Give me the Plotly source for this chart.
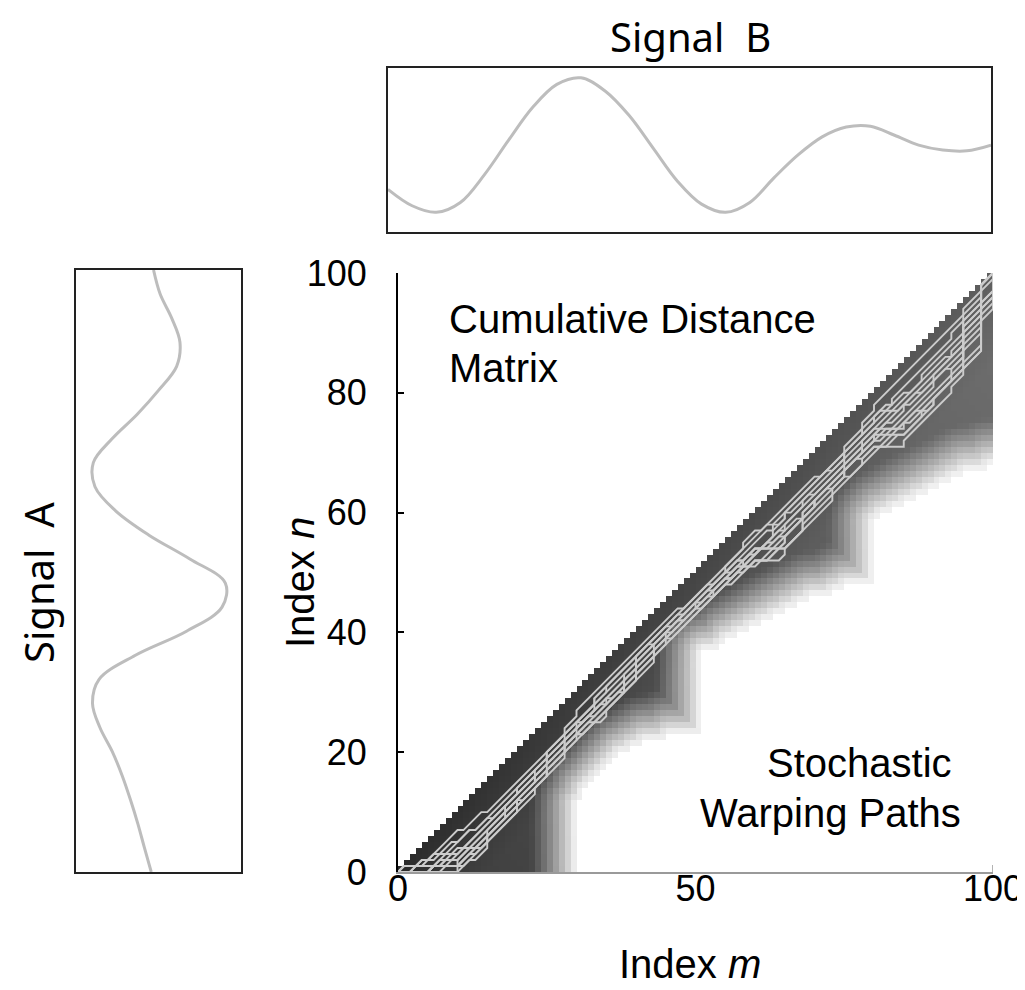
import numpy as np
import plotly.graph_objects as go

# ---------------- data ----------------
# Signal B (top panel): index m vs relative amplitude
B_M = [0, 4, 8, 12, 16, 20, 24, 28, 32, 36, 40, 44, 48, 52, 56, 60, 64, 68, 72, 76, 80, 84, 88, 92, 96, 100]
B_VAL = [0.26, 0.16, 0.12, 0.18, 0.35, 0.56, 0.76, 0.90, 0.94, 0.86, 0.71, 0.51, 0.31, 0.17, 0.12, 0.18,
         0.33, 0.47, 0.58, 0.64, 0.645, 0.59, 0.53, 0.50, 0.495, 0.53]

# Signal A (left panel): index n vs relative amplitude (drawn horizontally)
A_N = [100, 96, 92, 88, 84, 80, 76, 72, 68, 64, 60, 56, 52, 48, 44, 40, 36, 32, 28, 24, 20, 16, 12, 8, 4, 0]
A_VAL = [0.47, 0.51, 0.58, 0.63, 0.61, 0.50, 0.37, 0.22, 0.105, 0.115, 0.24, 0.44, 0.69, 0.905, 0.885,
         0.67, 0.36, 0.14, 0.10, 0.145, 0.22, 0.28, 0.33, 0.375, 0.415, 0.456]

# Cumulative distance matrix: lower boundary of the shaded region (white below), per column m
LOW_M = [0, 29, 30, 32, 35, 38, 42, 46, 50, 51, 53, 57, 62, 67, 72, 76, 79, 80, 84, 88, 92, 96, 100]
LOW_N = [0, 0, 12, 15.5, 18.5, 20.5, 22, 23, 23.5, 37, 37.5, 40, 42.5, 45, 46.5, 48, 48.5, 59, 61.5, 63.5, 65.5, 67, 68]
GRAY_NEAR_ORIGIN = 0.17
GRAY_NEAR_END = 0.37
FADE_WIDTH = 8.0

# Stochastic warping paths: offset (m - n) at anchor columns
PATH_M = [0, 5, 10, 15, 20, 25, 30, 35, 40, 45, 50, 55, 60, 65, 70, 75, 80, 85, 90, 95, 100]
PATH_OFFSETS = [
    [0, 3, 3, 5, 5, 5, 4, 3, 3, 3, 4, 4, 3, 4, 4, 5, 3, 2, 2, 2, 0],
    [0, 4, 5, 6, 6, 6, 5, 5, 4, 4, 5, 5, 5, 6, 5, 6, 5, 4, 4, 3, 0],
    [0, 5, 7, 7, 7, 7, 6, 6, 5, 5, 5, 5, 6, 7, 6, 6, 6, 6, 5, 5, 0],
    [0, 5, 8, 8, 8, 8, 6, 7, 6, 5, 6, 6, 7, 8, 7, 7, 7, 8, 7, 6, 0],
    [0, 5, 9, 9, 9, 8, 7, 8, 7, 6, 6, 5, 6, 9, 8, 8, 8, 9, 9, 8, 0],
    [0, 4, 9, 10, 9, 9, 7, 9, 7, 6, 7, 6, 7, 10, 9, 9, 7, 11, 10, 9, 0],
    [0, 5, 9, 10, 10, 8, 7, 7, 8, 7, 7, 7, 8, 11, 10, 10, 9, 12, 11, 11, 0],
    [0, 5, 10, 11, 10, 9, 8, 8, 8, 7, 6, 7, 9, 12, 11, 9, 10, 14, 13, 12, 0],
    [0, 3, 6, 7, 7, 7, 6, 5, 5, 4, 5, 6, 8, 9, 8, 8, 9, 10, 12, 10, 0],
    [0, 4, 8, 9, 8, 7, 6, 4, 4, 5, 5, 6, 7, 5, 7, 7, 4, 5, 6, 7, 0],
    [0, 5, 9, 8, 7, 6, 5, 7, 6, 5, 6, 7, 6, 8, 9, 7, 6, 7, 8, 7, 0],
    [0, 4, 7, 10, 8, 7, 6, 6, 7, 6, 5, 5, 7, 10, 8, 9, 8, 10, 11, 10, 0],
    [0, 5, 10, 9, 8, 9, 7, 8, 6, 5, 6, 6, 8, 11, 9, 8, 7, 12, 12, 11, 0],
    [0, 3, 5, 6, 7, 6, 5, 4, 4, 4, 4, 5, 4, 6, 5, 5, 4, 7, 8, 9, 0],
]

Y_TICKS = [0, 20, 40, 60, 80, 100]
X_TICKS = [0, 50, 100]

# ---------------- build matrix ----------------
N = 100
cols = np.arange(N)
rows = np.arange(N)
n_low = np.interp(cols, LOW_M, LOW_N)
MM, NN = np.meshgrid(cols, rows)
inside = NN <= MM
white = (NN + 0.5 < n_low[MM]) & inside
wy, wx = np.nonzero(white)
dark = inside & ~white
dy, dx = np.nonzero(dark)
d2 = (dy[:, None] - wy[None, :]) ** 2 + (dx[:, None] - wx[None, :]) ** 2
dist = np.sqrt(d2.min(axis=1))
z = np.full((N, N), np.nan)
z[white] = 1.0
base = (GRAY_NEAR_ORIGIN + (GRAY_NEAR_END - GRAY_NEAR_ORIGIN) * (dx + dy) / 200.0
        + 0.07 * np.clip((dx - dy) / 15.0, 0, 1))
t = np.clip((dist - 0.3) / FADE_WIDTH, 0, 1)
z[dy, dx] = base + (1 - base) * (1 - t) ** 1.15


def route(offsets, idx):
    pm, pn = [PATH_M[0]], [PATH_M[0] - offsets[0]]
    for k in range(1, len(PATH_M)):
        m0, n0 = pm[-1], pn[-1]
        m1, n1 = PATH_M[k], PATH_M[k] - offsets[k]
        dm, dn = m1 - m0, n1 - n0
        s = max(0, min(dm, dn))
        rm, rn = dm - s, dn - s
        if (k + idx) % 2 == 0:
            a = (s + 1) // 2
            steps = [(a, a), (rm, rn), (s - a, s - a)]
        else:
            am, an = (rm + 1) // 2, (rn + 1) // 2
            steps = [(am, an), (s, s), (rm - am, rn - an)]
        for sm, sn in steps:
            if sm or sn:
                pm.append(pm[-1] + sm); pn.append(pn[-1] + sn)
    return pm, pn


fig = go.Figure()
fig.add_trace(go.Heatmap(
    x=cols + 0.5, y=rows + 0.5, z=z, zmin=0, zmax=1,
    colorscale=[[0, "#000000"], [1, "#ffffff"]], showscale=False,
    hoverinfo="skip", xaxis="x", yaxis="y"))

for i, off in enumerate(PATH_OFFSETS):
    pm, pn = route(off, i)
    fig.add_trace(go.Scatter(x=pm, y=pn, mode="lines",
                             line=dict(color="#cccccc", width=1.9),
                             hoverinfo="skip", showlegend=False, xaxis="x", yaxis="y"))

fig.add_trace(go.Scatter(x=B_M, y=B_VAL, mode="lines",
                         line=dict(color="#bdbdbd", width=3, shape="spline", smoothing=1.0),
                         showlegend=False, xaxis="x2", yaxis="y2"))
fig.add_trace(go.Scatter(x=A_VAL, y=A_N, mode="lines",
                         line=dict(color="#bdbdbd", width=3, shape="spline", smoothing=1.0),
                         showlegend=False, xaxis="x3", yaxis="y3"))

# page body has an 8px margin: figure placed at (8, 8) in the screenshot
OFF = 8
W, H = 1025 - OFF, 990 - OFF
def px_x(p): return (p - OFF) / W
def px_y(p): return (H - (p - OFF)) / H

tick_font = dict(family="Liberation Sans, Arial, sans-serif", size=36, color="black")
box_axis = dict(showline=True, mirror=True, linecolor="#222222", linewidth=1.5, showgrid=False,
                zeroline=False, showticklabels=False, ticks="")

fig.update_layout(
    width=W, height=H, margin=dict(l=0, r=0, t=0, b=0, autoexpand=False),
    paper_bgcolor="white", plot_bgcolor="white", showlegend=False,
    xaxis=dict(domain=[px_x(398), px_x(993)], range=[0, 100], showline=True, linecolor="#9a9a9a",
               linewidth=2, ticks="", tickvals=X_TICKS, ticktext=[str(v) for v in X_TICKS],
               tickfont=tick_font, ticklabelstandoff=-16,
               showgrid=False, zeroline=False, anchor="y"),
    yaxis=dict(domain=[px_y(872), px_y(273)], range=[0, 100], showline=True, linecolor="black",
               linewidth=2, ticks="inside", ticklen=6, tickwidth=1.5, tickcolor="black",
               tickvals=Y_TICKS, tickfont=tick_font, ticklabelstandoff=22,
               showgrid=False, zeroline=False, anchor="x"),
    xaxis2=dict(domain=[px_x(388), px_x(991)], range=[0, 100], anchor="y2", **box_axis),
    yaxis2=dict(domain=[px_y(232), px_y(68)], range=[0, 1], anchor="x2", **box_axis),
    xaxis3=dict(domain=[px_x(76), px_x(241)], range=[0, 1], anchor="y3", **box_axis),
    yaxis3=dict(domain=[px_y(872), px_y(270)], range=[0, 100], anchor="x3", **box_axis),
)

fig.add_shape(type="line", xref="x", yref="paper", x0=100, x1=100, y0=px_y(872), y1=px_y(865),
              line=dict(color="#9a9a9a", width=1.5))

ann_font = dict(family="Liberation Sans, Arial, sans-serif", size=40, color="black")
sig_font = dict(family="Noto Sans, sans-serif", size=40, color="black")
notes = [
    ("Cumulative Distance", 447, 319, "left", 0, ann_font),
    ("Matrix", 447, 368, "left", 0, ann_font),
    ("Stochastic", 765, 763, "left", 0, ann_font),
    ("Warping Paths", 698, 813, "left", 0, ann_font),
    ("Index <i>m</i>", 690, 964, "center", 0, ann_font),
    ("Index <i>n</i>", 300, 583, "center", -90, ann_font),
    ("Signal\u00a0\u00a0B", 690, 37, "center", 0, sig_font),
    ("Signal\u00a0\u00a0A", 38, 583, "center", -90, sig_font),
]
for txt, x, y, xa, ang, f in notes:
    fig.add_annotation(text=txt, x=px_x(x), y=px_y(y), xref="paper", yref="paper",
                       xanchor=xa, yanchor="middle", showarrow=False, textangle=ang, font=f)

fig.write_html("out.html")
